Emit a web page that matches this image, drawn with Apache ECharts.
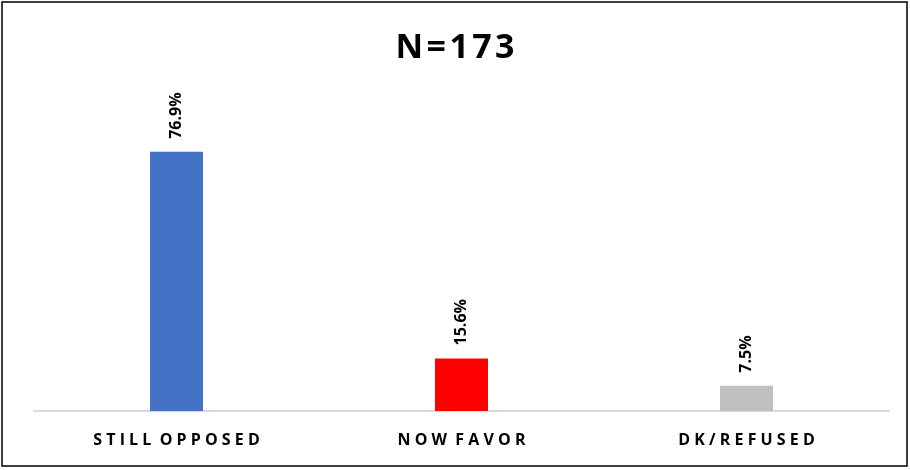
<!DOCTYPE html>
<html>
<head>
<meta charset="utf-8">
<script src="https://cdn.jsdelivr.net/npm/echarts@6/dist/echarts.min.js"></script>
<style>
  html, body { margin: 0; padding: 0; background: #fff; }
  #chart-container { width: 910px; height: 470px; }
</style>
</head>
<body>
<div id="chart-container"></div>
<script>
var dom = document.getElementById('chart-container');
var myChart = echarts.init(dom, null, { renderer: 'canvas' });

// chart data
const categories = ['STILL OPPOSED', 'NOW FAVOR', 'DK/REFUSED'];
const values = [76.9, 15.6, 7.5];
const barColors = ['#4472C4', '#FF0000', '#BFBFBF'];
const titleText = 'N=173';

// spread letters out like the original letter-spaced text
function spaced(s, gap, wordGap) {
    return s.split(' ').map(function (w) {
        return w.split('').join(gap);
    }).join(wordGap);
}

var option = {
    animation: false,
    textStyle: { fontFamily: 'Open Sans' },
    title: {
        text: spaced(titleText, '\u200A', ' '),
        left: 'center',
        top: 26,
        textStyle: {
            fontFamily: 'Open Sans',
            fontWeight: 'bold',
            fontSize: 34,
            color: '#000'
        }
    },
    graphic: [{
        type: 'rect',
        shape: { x: 2, y: 2, width: 905, height: 464 },
        style: { fill: 'none', stroke: '#000', lineWidth: 1.5 },
        silent: true
    }],
    grid: {
        left: 34,
        right: 21,
        top: 74,
        bottom: 59
    },
    xAxis: {
        type: 'category',
        data: categories,
        axisLine: { lineStyle: { color: '#D9D9D9', width: 2 } },
        axisTick: { show: false },
        axisLabel: {
            margin: 21,
            fontFamily: 'Open Sans',
            fontWeight: 'bold',
            fontSize: 16,
            color: '#000',
            formatter: function (v) { return spaced(v, ' ', '  '); }
        }
    },
    yAxis: {
        type: 'value',
        min: 0,
        max: 100,
        show: false,
        splitLine: { show: false }
    },
    series: [{
        type: 'bar',
        barWidth: 53,
        data: values.map(function (v, i) {
            return { value: v, itemStyle: { color: barColors[i] } };
        }),
        label: {
            show: true,
            position: 'top',
            rotate: 90,
            align: 'left',
            verticalAlign: 'middle',
            distance: 13,
            fontFamily: 'Open Sans',
            fontWeight: 'bold',
            fontSize: 16,
            color: '#000',
            formatter: function (p) { return p.value.toFixed(1) + '%'; }
        }
    }]
};

myChart.setOption(option);
</script>
</body>
</html>
